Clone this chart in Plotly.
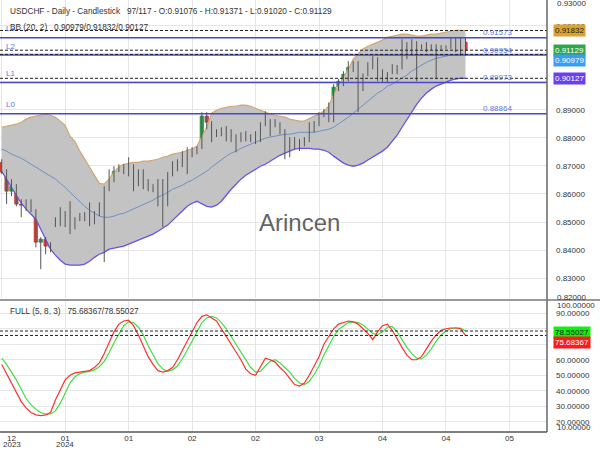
import plotly.graph_objects as go

# ---------------- data ----------------
opens = [0.8713, 0.8678, 0.8610, 0.8628, 0.8564, 0.8553, 0.8564, 0.8539, 0.8428, 0.8439,
         0.8410, 0.8500, 0.8506, 0.8499, 0.8503, 0.8510, 0.8521, 0.8528, 0.8517, 0.8517,
         0.8528, 0.8564, 0.8617, 0.8646, 0.8681, 0.8688, 0.8696, 0.8699, 0.8635, 0.8674,
         0.8646, 0.8624, 0.8621, 0.8628, 0.8581, 0.8671, 0.8710, 0.8699, 0.8749, 0.8735,
         0.8749, 0.8767, 0.8878, 0.8856, 0.8810, 0.8813, 0.8820, 0.8824, 0.8803, 0.8803,
         0.8820, 0.8806, 0.8792, 0.8788, 0.8847, 0.8842, 0.8856, 0.8842, 0.8824, 0.8785,
         0.8796, 0.8783, 0.8785, 0.8788, 0.8849, 0.8856, 0.8878, 0.8892, 0.8867, 0.8981,
         0.9002, 0.9017, 0.9038, 0.9063, 0.9027, 0.9027, 0.9056, 0.9081, 0.9038, 0.9002,
         0.9035, 0.9056, 0.9052, 0.9134, 0.9106, 0.9142, 0.9125, 0.9131, 0.9120, 0.9131,
         0.9118, 0.9123, 0.9124, 0.9145, 0.9127, 0.9142]
highs = [0.8724, 0.8688, 0.8653, 0.8635, 0.8581, 0.8581, 0.8581, 0.8546, 0.8446, 0.8446,
         0.8428, 0.8517, 0.8553, 0.8539, 0.8574, 0.8517, 0.8532, 0.8535, 0.8570, 0.8539,
         0.8570, 0.8628, 0.8688, 0.8699, 0.8706, 0.8706, 0.8731, 0.8706, 0.8688, 0.8688,
         0.8653, 0.8635, 0.8653, 0.8653, 0.8678, 0.8717, 0.8724, 0.8753, 0.8767, 0.8767,
         0.8770, 0.8892, 0.8892, 0.8860, 0.8831, 0.8838, 0.8842, 0.8831, 0.8813, 0.8820,
         0.8824, 0.8813, 0.8824, 0.8856, 0.8895, 0.8867, 0.8867, 0.8856, 0.8831, 0.8803,
         0.8803, 0.8796, 0.8803, 0.8856, 0.8860, 0.8892, 0.8903, 0.8927, 0.8992, 0.9010,
         0.9038, 0.9074, 0.9074, 0.9074, 0.9030, 0.9070, 0.9092, 0.9088, 0.9045, 0.9035,
         0.9063, 0.9060, 0.9152, 0.9142, 0.9152, 0.9145, 0.9134, 0.9142, 0.9134, 0.9134,
         0.9131, 0.9130, 0.9159, 0.9159, 0.9159, 0.9159]
lows = [0.8671, 0.8564, 0.8592, 0.8556, 0.8517, 0.8539, 0.8535, 0.8410, 0.8332, 0.8385,
        0.8392, 0.8482, 0.8485, 0.8482, 0.8457, 0.8474, 0.8503, 0.8503, 0.8485, 0.8492,
        0.8521, 0.8357, 0.8610, 0.8642, 0.8678, 0.8671, 0.8663, 0.8610, 0.8628, 0.8617,
        0.8610, 0.8606, 0.8556, 0.8482, 0.8556, 0.8663, 0.8681, 0.8696, 0.8671, 0.8731,
        0.8742, 0.8760, 0.8831, 0.8785, 0.8803, 0.8806, 0.8788, 0.8785, 0.8749, 0.8785,
        0.8788, 0.8785, 0.8778, 0.8785, 0.8842, 0.8806, 0.8838, 0.8813, 0.8724, 0.8731,
        0.8760, 0.8753, 0.8770, 0.8785, 0.8820, 0.8842, 0.8874, 0.8856, 0.8856, 0.8967,
        0.8985, 0.9002, 0.9035, 0.8892, 0.8967, 0.9020, 0.9045, 0.9002, 0.8999, 0.8999,
        0.9027, 0.9027, 0.9045, 0.9081, 0.9099, 0.9002, 0.9117, 0.9106, 0.9113, 0.9010,
        0.9110, 0.9117, 0.9117, 0.9106, 0.9092, 0.9092]
closes = [0.8678, 0.8610, 0.8628, 0.8564, 0.8560, 0.8564, 0.8539, 0.8428, 0.8439, 0.8414,
          0.8421, 0.8503, 0.8499, 0.8510, 0.8506, 0.8482, 0.8517, 0.8510, 0.8521, 0.8528,
          0.8564, 0.8624, 0.8646, 0.8681, 0.8688, 0.8696, 0.8699, 0.8642, 0.8678, 0.8635,
          0.8617, 0.8610, 0.8624, 0.8581, 0.8671, 0.8706, 0.8699, 0.8742, 0.8742, 0.8753,
          0.8767, 0.8878, 0.8856, 0.8803, 0.8813, 0.8831, 0.8838, 0.8796, 0.8799, 0.8806,
          0.8803, 0.8788, 0.8790, 0.8849, 0.8850, 0.8856, 0.8842, 0.8824, 0.8778, 0.8788,
          0.8778, 0.8786, 0.8796, 0.8849, 0.8856, 0.8878, 0.8892, 0.8867, 0.8981, 0.9002,
          0.9027, 0.9052, 0.9063, 0.9020, 0.9002, 0.9056, 0.9081, 0.9035, 0.9020, 0.9005,
          0.9056, 0.9035, 0.9145, 0.9106, 0.9145, 0.9124, 0.9128, 0.9110, 0.9127, 0.9110,
          0.9121, 0.9125, 0.9152, 0.9131, 0.9149, 0.91129]

bb_upper = [0.8838, 0.8842, 0.8845, 0.8849, 0.8856, 0.8867, 0.8874, 0.8878, 0.8881, 0.8885,
            0.8881, 0.8874, 0.8860, 0.8845, 0.8806, 0.8788, 0.8753, 0.8724, 0.8696, 0.8667,
            0.8638, 0.8635, 0.8653, 0.8678, 0.8696, 0.8706, 0.8710, 0.8713, 0.8713, 0.8717,
            0.8717, 0.8721, 0.8724, 0.8731, 0.8735, 0.8742, 0.8746, 0.8749, 0.8756, 0.8760,
            0.8771, 0.8806, 0.8838, 0.8888, 0.8899, 0.8906, 0.8910, 0.8913, 0.8913, 0.8917,
            0.8917, 0.8913, 0.8906, 0.8899, 0.8892, 0.8885, 0.8881, 0.8878, 0.8874, 0.8867,
            0.8863, 0.8860, 0.8860, 0.8870, 0.8878, 0.8885, 0.8895, 0.8913, 0.8956, 0.8988,
            0.9017, 0.9045, 0.9081, 0.9099, 0.9117, 0.9127, 0.9134, 0.9142, 0.9149, 0.9159,
            0.9163, 0.9167, 0.9170, 0.9170, 0.9167, 0.9163, 0.9163, 0.9167, 0.9170, 0.9170,
            0.9174, 0.9177, 0.9181, 0.9184, 0.9184, 0.91832]
bb_mid = [0.8760, 0.8753, 0.8742, 0.8735, 0.8728, 0.8717, 0.8706, 0.8696, 0.8685, 0.8674,
          0.8663, 0.8653, 0.8638, 0.8624, 0.8606, 0.8589, 0.8571, 0.8556, 0.8542, 0.8531,
          0.8521, 0.8517, 0.8517, 0.8521, 0.8528, 0.8531, 0.8539, 0.8546, 0.8556, 0.8564,
          0.8571, 0.8578, 0.8589, 0.8596, 0.8606, 0.8617, 0.8624, 0.8631, 0.8642, 0.8649,
          0.8660, 0.8671, 0.8681, 0.8696, 0.8710, 0.8721, 0.8735, 0.8746, 0.8753, 0.8763,
          0.8771, 0.8778, 0.8785, 0.8792, 0.8799, 0.8803, 0.8806, 0.8810, 0.8813, 0.8813,
          0.8817, 0.8820, 0.8820, 0.8820, 0.8820, 0.8824, 0.8828, 0.8831, 0.8838, 0.8849,
          0.8860, 0.8874, 0.8888, 0.8903, 0.8917, 0.8931, 0.8945, 0.8960, 0.8970, 0.8985,
          0.8992, 0.9002, 0.9013, 0.9024, 0.9038, 0.9049, 0.9060, 0.9070, 0.9077, 0.9084,
          0.9088, 0.9092, 0.9095, 0.9095, 0.9099, 0.90979]
bb_lower = [0.8681, 0.8653, 0.8624, 0.8596, 0.8567, 0.8546, 0.8528, 0.8510, 0.8474, 0.8439,
            0.8403, 0.8382, 0.8364, 0.8350, 0.8346, 0.8346, 0.8346, 0.8350, 0.8360, 0.8374,
            0.8385, 0.8392, 0.8403, 0.8407, 0.8410, 0.8414, 0.8421, 0.8428, 0.8435, 0.8442,
            0.8449, 0.8457, 0.8467, 0.8478, 0.8489, 0.8506, 0.8524, 0.8539, 0.8556, 0.8567,
            0.8574, 0.8564, 0.8556, 0.8553, 0.8560, 0.8574, 0.8596, 0.8617, 0.8635, 0.8653,
            0.8667, 0.8678, 0.8688, 0.8699, 0.8706, 0.8717, 0.8728, 0.8738, 0.8746, 0.8753,
            0.8760, 0.8763, 0.8763, 0.8763, 0.8760, 0.8760, 0.8756, 0.8749, 0.8735, 0.8721,
            0.8710, 0.8703, 0.8699, 0.8703, 0.8710, 0.8721, 0.8731, 0.8742, 0.8753, 0.8767,
            0.8788, 0.8810, 0.8838, 0.8867, 0.8895, 0.8920, 0.8942, 0.8960, 0.8974, 0.8985,
            0.8992, 0.8999, 0.9006, 0.9010, 0.9013, 0.90127]

stoch_k = [57, 51, 46, 39, 33, 29, 26, 24.5, 24, 24.5,
           26, 34, 41, 47, 50, 51.5, 52, 52.5, 53, 55,
           58, 64, 71, 78, 83, 85, 85.5, 82, 76, 69,
           62, 57, 53, 52, 53, 55, 60, 66, 72, 79,
           84, 88, 89, 87, 85, 80, 75, 70, 65, 60,
           54, 51, 50, 56, 61, 60, 58.5, 55, 52, 48,
           44, 43, 45, 50, 56, 62, 70, 75, 80, 83,
           84, 85, 84.5, 83, 80, 77, 73, 78, 82, 83,
           79, 73, 68, 63, 60, 60, 62, 67, 72, 76,
           79, 80, 80.5, 80.5, 80, 75.68367]
stoch_d = [61, 57, 52, 47, 41, 35, 31, 28, 26, 25,
           25, 27, 32, 39, 45, 49, 51, 52, 52.5, 53.5,
           55.5, 59, 64.5, 71, 77, 82, 84.5, 84, 81, 76,
           69, 63, 57.5, 54, 52.5, 53.5, 56, 60.5, 66, 72,
           78, 84, 87, 88, 87, 84, 80, 75, 70, 65,
           60, 55, 52, 52.5, 56, 59, 60, 58, 55, 52,
           48, 45, 44, 46, 50.5, 56, 63, 69, 75, 79.5,
           82, 84, 84.5, 84, 82.5, 80, 77, 76, 78, 81,
           81.5, 78, 73, 68, 64, 61, 60.5, 63, 67, 72,
           76, 78.5, 80, 80.5, 80.5, 78.55027]

x_tick_idx = [13, 26, 39, 52, 65, 78, 91, 104]
x_tick_text = ["01", "01", "02", "02", "03", "04", "04", "05"]
first_month, first_year = "12", "2023"
year_marks = [(13, "2024")]

levels = [0.88864, 0.89973, 0.90954, 0.91573]
level_names = ["L0", "L1", "L2", "L3"]

last_open, last_high, last_low, last_close = 0.91076, 0.91371, 0.91020, 0.91129
price_ticks = [0.83, 0.84, 0.85, 0.86, 0.87, 0.88, 0.89, 0.90, 0.91, 0.92]
price_ticks_shown = [0.83, 0.84, 0.85, 0.86, 0.87, 0.88, 0.89, 0.92]   # 0.90/0.91 sit under value boxes
stoch_ticks = [20, 30, 40, 50, 60, 70, 80, 90]
stoch_ticks_shown = [20, 30, 40, 50, 60, 90]

# ---------------- figure ----------------
FONT = "Liberation Sans, Arial, sans-serif"
TXT = "#333333"
FS = 8          # axis / label font size
HS = 8.25       # header font size
GAP = " \u00a0\u00a0"
n = len(opens)
idx = list(range(n))

fig = go.Figure()

# Bollinger bands
fig.add_trace(go.Scatter(x=idx, y=bb_upper, mode="lines", line=dict(color="#d3a76c", width=1.2),
                         hoverinfo="skip", xaxis="x", yaxis="y"))
fig.add_trace(go.Scatter(x=idx, y=bb_lower, mode="lines", line=dict(color="#6653e6", width=1.3),
                         fill="tonexty", fillcolor="#c3c3c3", hoverinfo="skip", xaxis="x", yaxis="y"))
fig.add_trace(go.Scatter(x=idx, y=bb_mid, mode="lines", line=dict(color="#6f8fc6", width=1),
                         hoverinfo="skip", xaxis="x", yaxis="y"))

# candle wicks
wx, wy = [], []
for i in idx:
    wx += [i, i, None]
    wy += [lows[i], highs[i], None]
fig.add_trace(go.Scatter(x=wx, y=wy, mode="lines", line=dict(color="#555555", width=1),
                         hoverinfo="skip", xaxis="x", yaxis="y"))

# candle bodies
base = [min(o, c) for o, c in zip(opens, closes)]
body = [max(abs(c - o), 0.00012) for o, c in zip(opens, closes)]
fill = ["#2fa44f" if c >= o else "#d9453f" for o, c in zip(opens, closes)]
edge = ["#1d7a37" if c >= o else "#a52d29" for o, c in zip(opens, closes)]
fig.add_trace(go.Bar(x=idx, y=body, base=base, width=0.72,
                     marker=dict(color=fill, line=dict(color=edge, width=0.6)),
                     hoverinfo="skip", xaxis="x", yaxis="y"))

# stochastic
fig.add_trace(go.Scatter(x=idx, y=stoch_d, mode="lines", line=dict(color="#3fe03f", width=1.2),
                         hoverinfo="skip", xaxis="x2", yaxis="y2"))
fig.add_trace(go.Scatter(x=idx, y=stoch_k, mode="lines", line=dict(color="#ff3030", width=1.2),
                         hoverinfo="skip", xaxis="x2", yaxis="y2"))

shapes = []
for lv in levels:
    shapes.append(dict(type="line", xref="paper", x0=0, x1=1, yref="y", y0=lv, y1=lv,
                       line=dict(color="#4848c8", width=1.5)))
for v in [bb_upper[-1], last_close, bb_mid[-1], bb_lower[-1]]:
    shapes.append(dict(type="line", xref="paper", x0=0, x1=1, yref="y", y0=v, y1=v,
                       line=dict(color="#222222", width=1, dash="3px,2px")))
for v in [stoch_d[-1], stoch_k[-1]]:
    shapes.append(dict(type="line", xref="paper", x0=0, x1=1, yref="y2", y0=v, y1=v,
                       line=dict(color="#222222", width=1, dash="3px,2px")))
shapes.append(dict(type="line", xref="paper", x0=1, x1=1, yref="paper", y0=0, y1=1,
                   line=dict(color="#666666", width=1.5)))
shapes.append(dict(type="line", xref="paper", x0=0, x1=1.097, yref="paper", y0=0.3056, y1=0.3056,
                   line=dict(color="#777777", width=1.5)))
shapes.append(dict(type="line", xref="paper", x0=0, x1=1, yref="paper", y0=0, y1=0,
                   line=dict(color="#555555", width=1.5)))

ann = []
ann.append(dict(xref="paper", yref="paper", x=0.0146, y=0.9745, xanchor="left", yanchor="middle",
                text=f"USDCHF - Daily - Candlestick{GAP}97/117 - O:{last_open:.5f} - H:{last_high:.5f} - L:{last_low:.5f} - C:{last_close:.5f}",
                showarrow=False, font=dict(family=FONT, size=HS, color=TXT)))
ann.append(dict(xref="paper", yref="paper", x=0.0146, y=0.9375, xanchor="left", yanchor="middle",
                text=f"BB (20, 2){GAP}{bb_mid[-1]:.5f}/{bb_upper[-1]:.5f}/{bb_lower[-1]:.5f}",
                showarrow=False, font=dict(family=FONT, size=HS, color=TXT)))
ann.append(dict(xref="paper", yref="paper", x=0.0146, y=0.2785, xanchor="left", yanchor="middle",
                text=f"FULL (5, 8, 3){GAP}{stoch_k[-1]:.5f}/{stoch_d[-1]:.5f}",
                showarrow=False, font=dict(family=FONT, size=HS, color=TXT)))
for lv, nm in zip(levels, level_names):
    ann.append(dict(xref="paper", yref="y", x=0.008, y=lv, xanchor="left", yanchor="middle", yshift=9,
                    text=nm, showarrow=False, font=dict(family=FONT, size=FS, color="#5b78e0")))
    ann.append(dict(xref="paper", yref="y", x=0.910, y=lv, xanchor="center", yanchor="middle", yshift=5,
                    text=f"{lv:.5f}", showarrow=False, font=dict(family=FONT, size=FS, color="#5b78e0")))
for txt, py in [("0.93000", 0.993), ("0.82000", 0.3125), ("100.00000", 0.2917), ("10.00000", 0.0093)]:
    ann.append(dict(xref="paper", yref="paper", x=1, y=py, xanchor="left", yanchor="middle", xshift=8,
                    text=txt, showarrow=False, font=dict(family=FONT, size=FS, color=TXT)))
# x labels: first (clamped) month/year and the year under the 2024 tick
ann.append(dict(xref="paper", yref="paper", x=0.0212, y=0, xanchor="center", yanchor="middle", yshift=-6,
                text=first_month, showarrow=False, borderpad=0, font=dict(family=FONT, size=FS, color=TXT)))
ann.append(dict(xref="paper", yref="paper", x=0.0212, y=0, xanchor="center", yanchor="middle", yshift=-12.5,
                text=first_year, showarrow=False, borderpad=0, font=dict(family=FONT, size=FS, color=TXT)))
for xi, yr_txt in year_marks:
    ann.append(dict(xref="x2", yref="paper", x=xi, y=0, xanchor="center", yanchor="middle", yshift=-12.5,
                    text=yr_txt, showarrow=False, borderpad=0, font=dict(family=FONT, size=FS, color=TXT)))
boxes = [
    (bb_upper[-1], "y", "#dba22f", "#222222", 0),
    (last_close, "y", "#2ea64d", "#ffffff", 0),
    (bb_mid[-1], "y", "#3a9cf2", "#ffffff", -6),
    (bb_lower[-1], "y", "#6a3ff0", "#ffffff", 0),
    (stoch_d[-1], "y2", "#11ee11", "#222222", -1),
    (stoch_k[-1], "y2", "#ff1a1a", "#ffffff", -7),
]
for v, yr, bg, fc, ys in boxes:
    ann.append(dict(xref="paper", yref=yr, x=1, y=v, xanchor="left", yanchor="middle", xshift=6, yshift=ys,
                    text=f"{v:.5f}", showarrow=False, bgcolor=bg, borderpad=1,
                    font=dict(family=FONT, size=FS, color=fc)))
ann.append(dict(xref="paper", yref="paper", x=0.548, y=0.4838, xanchor="center", yanchor="middle",
                text="Arincen", showarrow=False, font=dict(family=FONT, size=24, color="rgba(70,70,70,0.85)")))

grid = "#e6e6e6"
xr = [-0.35, 111.7]
fig.update_layout(
    width=600, height=450, autosize=False,
    margin=dict(l=0, r=53, t=0, b=18, pad=0, autoexpand=False),
    paper_bgcolor="white", plot_bgcolor="white",
    showlegend=False, barmode="overlay",
    font=dict(family=FONT, size=FS, color=TXT),
    shapes=shapes, annotations=ann,
    xaxis=dict(domain=[0, 1], range=xr, anchor="y", tickvals=[0] + x_tick_idx, showticklabels=False,
               showgrid=True, gridcolor=grid, zeroline=False, showline=False, ticks="", automargin=False),
    yaxis=dict(domain=[0.3102, 1], range=[0.8229, 0.9292], side="right", anchor="x",
               tickvals=price_ticks,
               ticktext=[f"{t:.5f}" if t in price_ticks_shown else "" for t in price_ticks],
               showgrid=True, gridcolor=grid, zeroline=False, showline=False, ticks="", automargin=False,
               ticklabelstandoff=8, tickfont=dict(family=FONT, size=FS, color=TXT)),
    xaxis2=dict(domain=[0, 1], range=xr, anchor="y2", tickvals=x_tick_idx, ticktext=x_tick_text,
                showgrid=True, gridcolor=grid, zeroline=False, showline=False, ticks="", automargin=False,
                ticklabelstandoff=0, tickfont=dict(family=FONT, size=FS, color=TXT)),
    yaxis2=dict(domain=[0, 0.3032], range=[13.4, 97.9], side="right", anchor="x2",
                tickvals=stoch_ticks,
                ticktext=[f"{t:.5f}" if t in stoch_ticks_shown else "" for t in stoch_ticks],
                showgrid=True, gridcolor=grid, zeroline=False, showline=False, ticks="", automargin=False,
                ticklabelstandoff=8, tickfont=dict(family=FONT, size=FS, color=TXT)),
)

fig.write_html("out.html")
